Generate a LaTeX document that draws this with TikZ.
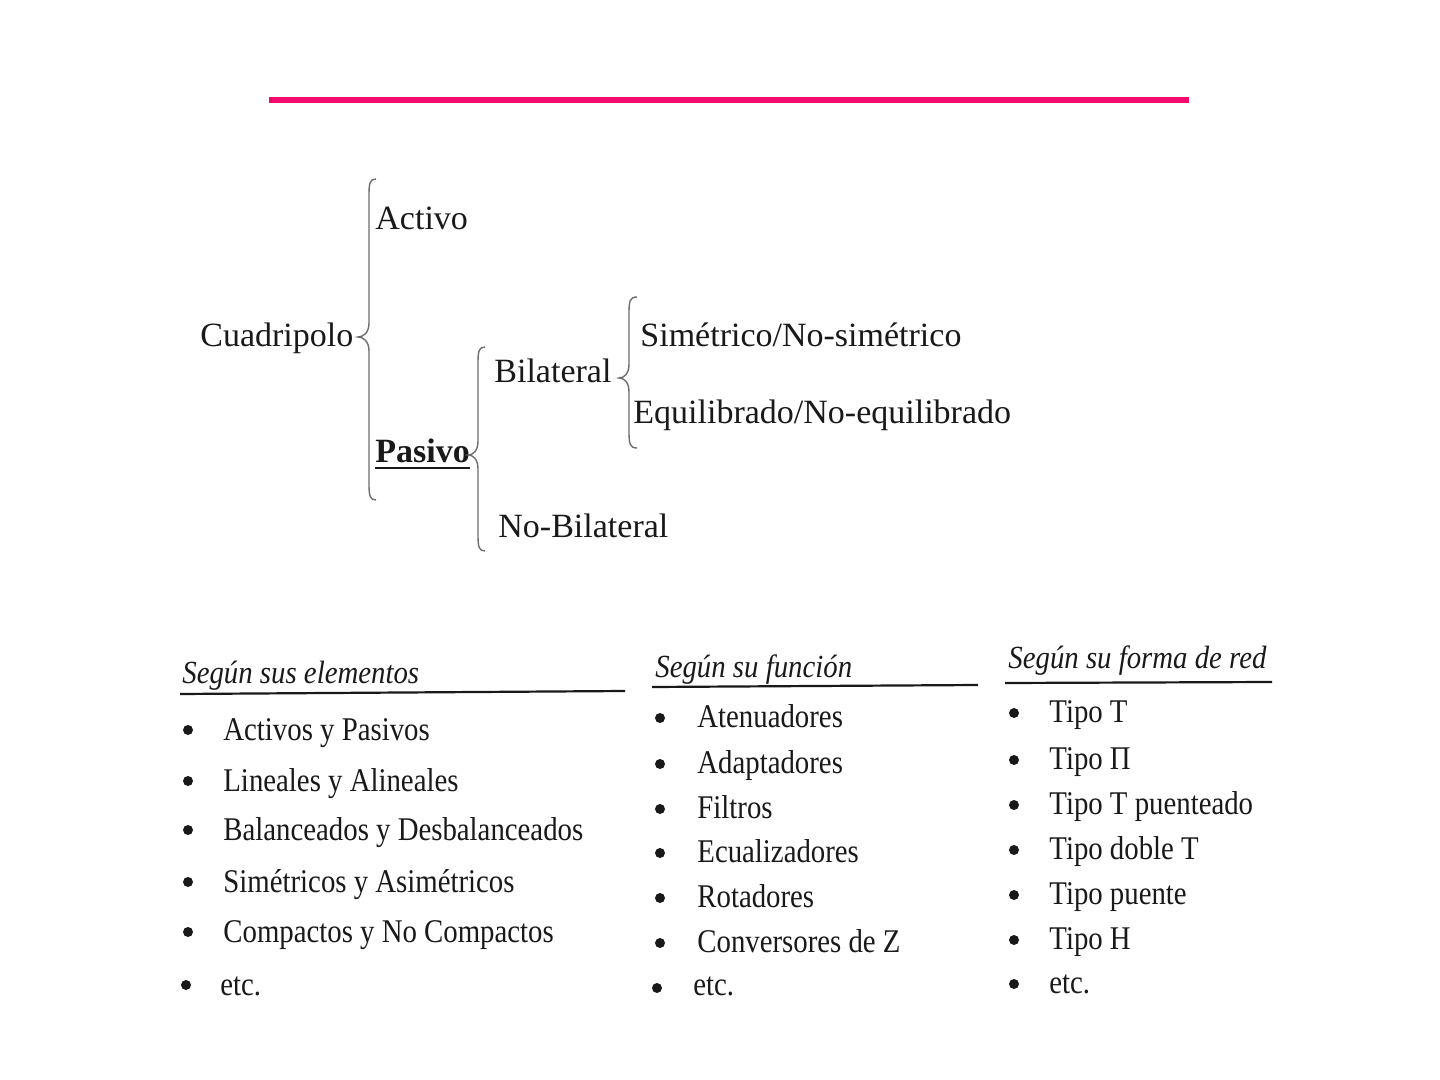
\documentclass[tikz,border=0pt]{standalone}
\usepackage{fontspec}
\setmainfont{Liberation Serif}
\definecolor{pinkbar}{RGB}{242,10,108}
\definecolor{txt}{RGB}{25,25,25}
\definecolor{bracegray}{RGB}{110,110,110}
\newcommand\curly[6]{% x, ytop, ybot, xtip, ymid, hook
  \draw[bracestyle] (#1+#6,#2) .. controls (#1+1,#2) and (#1,#2+4) .. (#1,#2+16)
    -- (#1,#5-14) .. controls (#1,#5-4) and (#4+5,#5) .. (#4,#5)
    .. controls (#4+5,#5) and (#1,#5+4) .. (#1,#5+14)
    -- (#1,#3-16) .. controls (#1,#3-4) and (#1+1,#3) .. (#1+#6,#3);}
\begin{document}
\begin{tikzpicture}[x=0.5pt,y=-0.5pt,
  toptext/.style={anchor=base west, inner sep=0pt, text=txt, font=\fontsize{17}{20}\selectfont},
  itemtext/.style={anchor=base west, inner sep=0pt, text=txt, font=\fontsize{14.4}{17}\selectfont},
  hdrtext/.style={anchor=base west, inner sep=0pt, text=txt, font=\fontsize{14.4}{17}\selectfont\itshape},
  bul/.style={circle, fill=txt, inner sep=0pt, minimum size=5pt},
  bracestyle/.style={draw=bracegray, line width=0.7pt},
  hdrline/.style={draw=txt, line width=1.1pt}]
\useasboundingbox[fill=white] (0,0) rectangle (1440,1080);
% pink bar
\coordinate (barL) at (269,100);
\coordinate (barR) at (1189,100);
\draw[pinkbar, line width=3pt] (barL) -- (barR);
% tree
\node[toptext] (cuad) at (200,347) {Cuadripolo};
\node[toptext] (activo) at (375,230) {Activo};
\node[toptext, font=\fontsize{17}{20}\selectfont\bfseries] (pasivo) at (375,462) {Pasivo};
\draw[txt, line width=1.4pt] ([yshift=-3pt]pasivo.base west) -- ([yshift=-3pt]pasivo.base east);
\node[toptext] (bilat) at (494,383) {Bilateral};
\node[toptext] (nobilat) at (498,537) {No-Bilateral};
\node[toptext] (sim) at (640,347) {Simétrico/No-simétrico};
\node[toptext] (equi) at (633,423) {Equilibrado/No-equilibrado};
\curly{369}{179}{500}{358}{337}{7}
\curly{478}{347}{551}{468}{455}{7}
\curly{629}{297}{448}{619}{378}{8}
% column 1
\node[hdrtext] (h1) at (182,683) {\scalebox{1}[1.12]{Según sus elementos}};
\coordinate (l1a) at (180,694); \coordinate (l1b) at (625,691);
\draw[hdrline] (l1a) -- (l1b);
\foreach \t/\y/\n in {Activos y Pasivos/740/a,Lineales y Alineales/791/b,Balanceados y Desbalanceados/840/c,Simétricos y Asimétricos/892/d,Compactos y No Compactos/942/e}{
  \node[itemtext] (c1\n) at (223,\y) {\scalebox{1}[1.15]{\t}};
  \node[bul] (b1\n) at (188,\y-10) {};
}
\node[itemtext] (c1f) at (220,995) {\scalebox{1}[1.15]{etc.}};
\node[bul] (b1f) at (186,985) {};
% column 2
\node[hdrtext] (h2) at (655,677) {\scalebox{1}[1.12]{Según su función}};
\coordinate (l2a) at (652,687); \coordinate (l2b) at (978,685);
\draw[hdrline] (l2a) -- (l2b);
\foreach \t/\y/\n in {Atenuadores/727/a,Adaptadores/773/b,Filtros/818/c,Ecualizadores/862/d,Rotadores/907/e,Conversores de Z/952/f}{
  \node[itemtext] (c2\n) at (697,\y) {\scalebox{1}[1.15]{\t}};
  \node[bul] (b2\n) at (660,\y-9) {};
}
\node[itemtext] (c2g) at (693,995) {\scalebox{1}[1.15]{etc.}};
\node[bul] (b2g) at (657,988) {};
% column 3
\node[hdrtext] (h3) at (1008,668) {\scalebox{1}[1.12]{Según su forma de red}};
\coordinate (l3a) at (1005,683); \coordinate (l3b) at (1272,682);
\draw[hdrline] (l3a) -- (l3b);
\foreach \t/\y/\n in {Tipo T/722/a,Tipo Π/769/b,Tipo T puenteado/814/c,Tipo doble T/859/d,Tipo puente/904/e,Tipo H/949/f,etc./993/g}{
  \node[itemtext] (c3\n) at (1049,\y) {\scalebox{1}[1.15]{\t}};
  \node[bul] (b3\n) at (1014,\y-9) {};
}
\end{tikzpicture}
\end{document}
